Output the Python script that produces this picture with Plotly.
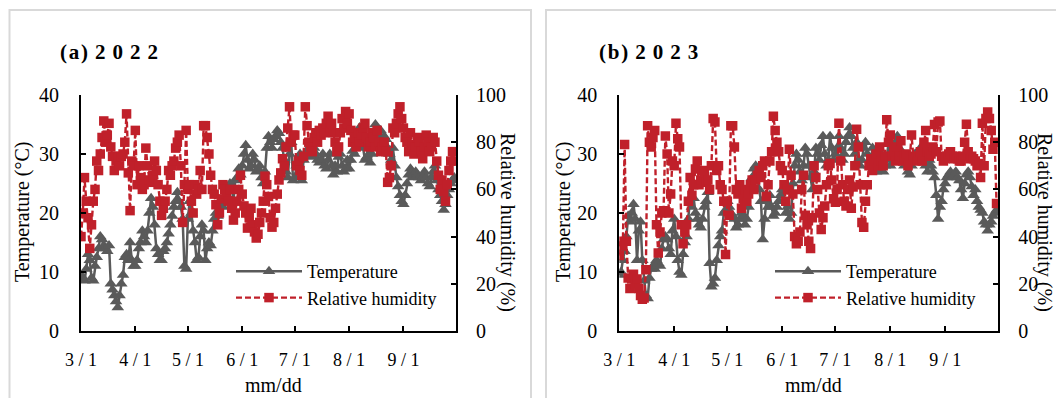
import pandas as pd
import plotly.graph_objects as go

# ---------------- data (daily, 3/1 .. 9/30) ----------------
temp_2022 = [
    9.5, 9, 8.5, 10.5, 13, 12, 9, 8.5, 11, 12.5, 14, 16, 15.5, 14.5, 14, 13.5, 14.5, 8, 7, 6, 5, 4, 6, 8, 9.5, 12.5, 13, 12, 15, 12, 11,
    11, 12, 14, 15, 17, 16, 15, 17, 20, 22.5, 21, 18, 14, 13, 12, 12, 13.5, 14, 15, 16.5, 18, 19.5, 21, 22, 23.5, 22, 21, 19, 11, 10.5,
    19, 22, 20, 17, 15, 12, 12.5, 16, 18, 17, 12, 14, 15, 14.5, 17, 19, 20, 19.5, 21.5, 22, 21, 22.5, 23, 24, 25, 24.5, 22, 25.5, 26, 27.5, 26.5,
    28, 30, 31.5, 29, 27.5, 28, 30, 29, 27, 27.5, 28, 26, 25, 27, 31, 33, 32, 31, 32.5, 33, 34, 33.5, 32, 31, 29, 27, 26, 30, 32, 25.5,
    26, 28, 29, 30, 25.5, 29, 30, 30.5, 31, 30, 29.5, 31, 30, 29, 28.5, 29, 30, 28, 27.5, 29, 30, 28, 26.5, 28, 27, 29.5, 30, 28, 27, 27.5, 29,
    27.5, 29, 30.5, 30, 32, 33.5, 34.5, 33, 31, 29, 29.5, 32, 28.5, 30, 33, 35, 34.5, 33, 34, 32, 33, 32.5, 31, 30, 29, 31, 28, 26, 24.5, 23, 22,
    21.5, 23, 25, 26.5, 27.5, 27, 26, 27, 26.5, 26, 25.5, 26, 27, 26, 25, 24.5, 26, 27, 28, 25.5, 24, 23, 22, 20.5, 21.5, 23, 24, 25, 25.5, 26,
]
rh_2022 = [
    40, 50, 65, 55, 48, 35, 45, 55, 60, 72, 68, 75, 82, 89, 80, 83, 88, 78, 74, 68, 72, 74, 70, 74, 75, 80, 92, 67, 51, 72, 70,
    85, 62, 70, 65, 60, 62, 77.5, 70, 64, 63, 66, 72, 68, 62, 55, 49, 52, 55, 60, 68, 66, 70, 72, 77.5, 80, 83, 70, 46, 62, 85,
    60, 62, 55, 50, 62, 58, 60, 68, 60, 87, 87, 82, 75, 66, 60, 58, 53.5, 45, 50, 56, 62, 60, 58, 55, 60, 52, 47, 50, 55, 60, 66,
    58, 53, 50, 43.6, 48, 52, 45, 42, 39.4, 41, 46, 50, 55, 65.6, 62, 57, 48, 44, 46, 52, 58, 64, 67, 73, 70, 78, 86, 95, 80, 83,
    83, 70, 72, 68, 66, 74, 95, 87, 80, 78, 76, 82, 84, 80, 85, 83, 86, 84, 88, 91, 86, 88, 84, 80, 76, 78, 84, 90, 86, 93, 88,
    92, 85, 80, 82, 78, 84, 80, 83, 86, 88, 82, 78, 80, 84, 82, 78, 85, 80, 76, 78, 80, 76, 63, 65, 70, 86, 84, 88, 92, 95, 90,
    86, 82, 80, 76, 84, 79, 75, 78, 82, 80, 76, 73, 78, 83, 80, 76, 78, 82, 80, 72, 66, 60, 64, 59, 55, 62, 68, 72, 76, 72,
]
temp_2023 = [
    9.5, 10, 12, 13.5, 16, 19.5, 18.5, 20, 21.5, 19, 12, 17, 18.5, 12, 8.5, 6, 5.5, 9, 10.5, 11, 10.5, 12, 11.5, 11, 14, 15.5, 16, 15.5, 14, 13, 17,
    19, 16, 12, 10, 9.5, 13, 15, 16, 19, 22.5, 21, 22.5, 20, 19, 18, 17.5, 19, 21, 22, 23.5, 11.5, 7.5, 8, 9, 12, 14.5, 16, 17, 20, 20.5,
    22, 21, 20, 19.5, 19, 17.5, 18, 19, 20, 19.5, 18, 19, 21, 24, 26, 27.5, 28, 26, 24, 22, 15.5, 19, 22, 21, 23, 21, 19.5, 20, 21, 22, 23,
    24, 22, 20, 21, 19, 20, 25, 28, 30, 29, 27, 25.5, 28, 31, 30, 28, 26, 24, 27, 31, 30, 29, 31.5, 33, 30, 28, 29, 33, 31, 29,
    30, 31, 33, 31, 29, 30, 32, 33, 34.5, 33, 31, 30, 32, 29, 28, 29, 31, 32, 30, 28, 29, 31, 30, 27, 27.5, 29, 30, 27, 28, 29, 32,
    28, 30, 31, 32, 33, 31, 30, 29, 28, 29, 27, 26.5, 28, 29, 30, 29, 30, 31, 30, 29, 28, 27, 29, 28, 27, 26, 23, 19, 21, 22, 24,
    25, 26, 26.5, 27, 26, 26.5, 27, 26, 25.5, 24, 22.5, 25, 26.5, 27, 26, 24.5, 23, 24, 22, 21, 20.5, 20, 18.5, 18, 17, 18, 18.5, 19.5, 20, 20.5,
]
rh_2023 = [
    32, 38, 36, 79, 38, 22.5, 18, 22, 24, 20, 22, 18, 15, 13.5, 14, 26, 87, 80, 78, 82, 85, 45, 33, 42, 50, 51, 82.6, 75, 50, 58, 72,
    70, 88, 81.5, 78, 45, 37, 42, 45, 55, 65, 57.5, 62, 68.6, 72, 62, 64, 68, 67, 63, 64, 60, 70, 90, 88.6, 68, 70, 62, 60, 55, 32.4,
    55, 49, 87, 87, 78, 60, 58, 62, 52, 56, 60, 55, 58, 62, 64, 60, 64, 66, 68, 65, 70, 72, 57, 62, 72, 76, 91, 85, 80, 76, 70,
    68, 62, 55, 60, 77, 66, 58, 40, 37, 38, 42, 60, 66, 49, 45, 38, 35, 48, 70, 65, 60, 50, 43, 48, 53, 62, 70, 71, 64, 56,
    54.6, 60, 88, 72, 62, 55, 53, 60, 64, 52, 61, 70, 85.5, 78, 62, 46, 44, 55, 62, 70, 73, 68, 72, 75, 70, 78, 72, 70, 74, 89.5, 80,
    83, 74, 76, 72, 78, 74, 80.6, 72, 74, 75, 70, 73, 83, 74, 73, 72, 74, 76, 72, 80, 85, 76, 74, 75, 78, 87.5, 76, 88.6, 89, 74, 72,
    73, 74, 75, 76, 74, 73, 74, 73, 72, 72, 74, 80, 87.6, 76, 73, 74, 73, 72, 70, 71, 65, 88, 70, 90, 92.8, 90, 85, 77, 80, 54,
]
for s in (temp_2022, rh_2022, temp_2023, rh_2023):
    assert len(s) == 214, len(s)

dates_2022 = pd.date_range("2022-03-01", periods=len(temp_2022), freq="D")
dates_2023 = pd.date_range("2023-03-01", periods=len(temp_2023), freq="D")

tick_labels = ["3 / 1", "4 / 1", "5 / 1", "6 / 1", "7 / 1", "8 / 1", "9 / 1"]
tick_months = [3, 4, 5, 6, 7, 8, 9]
SP = " \u200a"
panel_titles = ["(\u200aa\u200a)" + SP + SP.join("2022"), "(\u200ab\u200a)" + SP + SP.join("2023")]
series_names = ["Temperature", "Relative humidity"]

# ---------------- style ----------------
FONT = "Liberation Serif"
GRAY = "#5a5a5a"
RED = "#c0202a"
W, H = 1056, 398

def px(x):
    return x / W

def py(y):
    return 1 - y / H

fig = go.Figure()

panels = [
    dict(dates=dates_2022, t=temp_2022, rh=rh_2022, year=2022, x="x", yl="y", yr="y2", leg="legend"),
    dict(dates=dates_2023, t=temp_2023, rh=rh_2023, year=2023, x="x2", yl="y3", yr="y4", leg="legend2"),
]

for p in panels:
    fig.add_trace(go.Scatter(
        x=p["dates"], y=p["t"], name=series_names[0], mode="lines+markers",
        line=dict(color=GRAY, width=2.5),
        marker=dict(symbol="triangle-up", size=11, color=GRAY),
        xaxis=p["x"], yaxis=p["yl"], legend=p["leg"],
    ))
for p in panels:
    fig.add_trace(go.Scatter(
        x=p["dates"], y=p["rh"], name=series_names[1], mode="lines+markers",
        line=dict(color=RED, width=2.4, dash="6px,3px"),
        marker=dict(symbol="square", size=9.5, color=RED),
        xaxis=p["x"], yaxis=p["yr"], legend=p["leg"],
    ))

ydom = [py(331), py(95)]
xdoms = [[px(81), px(456)], [px(619.3), px(998.3)]]

axis_common = dict(
    showgrid=False, zeroline=False, showline=True, linecolor="black", linewidth=2,
    ticks="inside", ticklen=5, tickwidth=2, tickcolor="black", automargin=False,
    tickfont=dict(family=FONT, size=20, color="black"),
)

layout = dict(
    template="none",
    width=W, height=H, autosize=False,
    margin=dict(l=0, r=0, t=0, b=0, pad=0),
    paper_bgcolor="white", plot_bgcolor="white",
    font=dict(family=FONT, size=20, color="black"),
)

for i, p in enumerate(panels):
    xs = "" if i == 0 else "2"
    yl = "" if i == 0 else "3"
    yr = "2" if i == 0 else "4"
    yl_name = "y" if i == 0 else "y3"
    year = p["year"]
    layout["xaxis" + xs] = dict(
        axis_common, domain=xdoms[i], anchor=yl_name,
        range=[f"{year}-03-01", f"{year}-10-01"],
        tickvals=[f"{year}-{m:02d}-01" for m in tick_months], ticktext=tick_labels,
        ticklabelstandoff=11, tickfont=dict(family=FONT, size=18, color="black"),
    )
    layout["yaxis" + yl] = dict(
        axis_common, domain=ydom, anchor="x" + xs, range=[0, 40], dtick=10,
        tick0=0, ticklabelstandoff=16,
    )
    layout["yaxis" + yr] = dict(
        axis_common, domain=ydom, anchor="x" + xs, overlaying=yl_name,
        side="right", range=[0, 100], dtick=20, tick0=0, ticklabelstandoff=14,
    )

legend_common = dict(
    font=dict(family=FONT, size=18, color="black"), bgcolor="rgba(0,0,0,0)",
    xanchor="left", yanchor="top", tracegroupgap=0, itemwidth=66, borderwidth=0,
)
layout["legend"] = dict(legend_common, x=px(231), y=py(253))
layout["legend2"] = dict(legend_common, x=px(770), y=py(253))

fig.update_layout(**layout)

# panel frames
for x0, x1 in [(9.5, 531), (546, 1080)]:
    fig.add_shape(type="rect", xref="paper", yref="paper",
                  x0=px(x0), x1=px(x1), y0=py(420), y1=py(10),
                  line=dict(color="#d9d9d9", width=2), fillcolor="rgba(0,0,0,0)", layer="below")

# titles / axis titles
ann = []
for i, (tx, xc, yl_x, yr_x) in enumerate([(58, 273, 22, 508), (597, 813, 563, 1045)]):
    ann.append(dict(text=f"<b>{panel_titles[i]}</b>", x=px(tx), y=py(52), xanchor="left", yanchor="middle",
                    font=dict(family=FONT, size=21, color="black")))
    ann.append(dict(text="mm/dd", x=px(xc), y=py(385), xanchor="center", yanchor="middle"))
    ann.append(dict(text="Temperature (°C)", x=px(yl_x), y=py(212), textangle=-90,
                    xanchor="center", yanchor="middle"))
    ann.append(dict(text="Relative humidity (%)", x=px(yr_x), y=py(222), textangle=90,
                    xanchor="center", yanchor="middle"))
for a in ann:
    a.update(xref="paper", yref="paper", showarrow=False)
    a.setdefault("font", dict(family=FONT, size=20, color="black"))
fig.update_layout(annotations=ann)

fig.write_html("out.html")
